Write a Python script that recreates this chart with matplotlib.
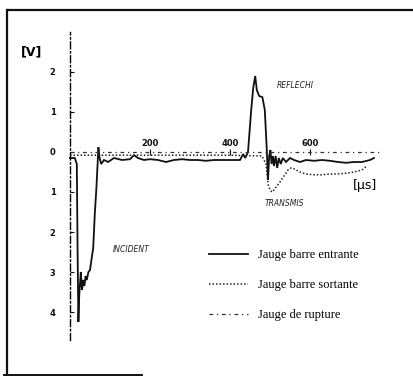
import matplotlib
matplotlib.use('Agg')
import matplotlib.pyplot as plt
from matplotlib.lines import Line2D
from matplotlib.ticker import FuncFormatter

# ---------------- data (time in µs, signal in V) ----------------
t_entrante = [0, 12, 17, 19, 21, 23, 25, 27, 30, 33, 36, 39, 42, 46, 50, 55, 58, 62, 66, 69, 71,
              74, 78, 85, 95, 110, 130, 150, 160, 170, 185, 200, 220, 240, 260, 280, 300, 320,
              340, 360, 380, 400, 415, 425, 433, 438, 445, 453, 458, 463, 467, 473, 481, 487,
              492, 495, 498, 501, 504, 507, 510, 514, 518, 522, 527, 532, 540, 550, 560, 575,
              590, 610, 630, 650, 670, 690, 710, 730, 750, 760]
v_entrante = [-0.15, -0.15, -0.3, -2.5, -4.25, -3.6, -3.3, -3.0, -3.45, -3.2, -3.35, -3.1, -3.2,
              -3.0, -2.95, -2.6, -2.4, -1.55, -0.9, -0.3, 0.12, -0.15, -0.3, -0.2, -0.25, -0.15,
              -0.2, -0.18, -0.08, -0.15, -0.2, -0.18, -0.2, -0.25, -0.2, -0.18, -0.2, -0.2,
              -0.22, -0.2, -0.2, -0.2, -0.2, -0.2, -0.05, -0.15, 0.0, 1.05, 1.6, 1.9, 1.55,
              1.4, 1.37, 1.05, 0.05, -0.7, -0.1, 0.05, -0.3, -0.1, -0.35, -0.1, -0.4, -0.15,
              -0.3, -0.15, -0.25, -0.15, -0.2, -0.25, -0.2, -0.22, -0.2, -0.22, -0.25, -0.27,
              -0.25, -0.25, -0.2, -0.15]

t_sortante = [0, 100, 200, 300, 400, 480, 490, 495, 500, 505, 510, 517, 525, 535, 545, 552,
              560, 575, 590, 610, 630, 650, 670, 690, 710, 730, 742]
v_sortante = [-0.08, -0.08, -0.08, -0.08, -0.08, -0.1, -0.3, -0.8, -0.95, -1.0, -0.95, -0.85,
              -0.75, -0.6, -0.45, -0.4, -0.42, -0.5, -0.55, -0.57, -0.57, -0.55, -0.55, -0.53,
              -0.5, -0.45, -0.35]

t_rupture = [0, 200, 400, 600, 780]
v_rupture = [0.0, 0.0, 0.0, 0.0, 0.0]

x_ticks = [200, 400, 600]
y_ticks = [-4, -3, -2, -1, 0, 1, 2]

labels = ["Jauge barre entrante", "Jauge barre sortante", "Jauge de rupture"]
annotations = ["INCIDENT", "REFLECHI", "TRANSMIS"]

# ---------------- figure ----------------
W, H = 413, 376
fig = plt.figure(figsize=(W / 100, H / 100), dpi=100)
fig.patch.set_facecolor('white')
ax = fig.add_axes([0, 0, 1, 1])
ax.set_facecolor('none')

# pixel mapping: t=0 at x=70px, 0.4 px per µs ; v=0 at y=152px, 40 px per V
ax.set_xlim(-70 / 0.4, (W - 70) / 0.4)
ax.set_ylim((152 - H) / 40, 152 / 40)

l1, = ax.plot(t_entrante, v_entrante, color='#111111', lw=1.3, solid_joinstyle='miter')
l2, = ax.plot(t_sortante, v_sortante, color='#222222', lw=1.1, linestyle=(0, (1, 1.3)))
l3, = ax.plot(t_rupture, v_rupture, color='#333333', lw=0.9, linestyle=(0, (3, 3, 1, 3)))

# axes spines
for s in ['right', 'bottom']:
    ax.spines[s].set_visible(False)
ax.spines['left'].set_position(('data', 0))
ax.spines['left'].set_bounds(-4.7, 3.0)
ax.spines['left'].set_linestyle((0, (5, 2, 1, 2)))
ax.spines['left'].set_linewidth(1.0)
ax.spines['top'].set_position(('data', 0))
ax.spines['top'].set_color('none')

ax.xaxis.tick_top()
ax.set_xticks(x_ticks)
ax.set_xticklabels([str(v) for v in x_ticks])
ax.tick_params(axis='x', direction='inout', length=4, width=0.8, pad=1,
               labelsize=6, colors='#111111')

ax.yaxis.set_ticks_position('left')
ax.set_yticks(y_ticks)
ax.yaxis.set_major_formatter(FuncFormatter(lambda v, p: f"{abs(int(round(v)))}"))
ax.tick_params(axis='y', direction='in', length=3, width=0.8, pad=10.5,
               labelsize=6, colors='#111111')
for lab in ax.get_yticklabels() + ax.get_xticklabels():
    lab.set_fontweight('bold')

ax.set_ylabel('[V]', rotation=0, fontsize=9, ha='center', va='center', fontweight='bold')
ax.yaxis.set_label_coords(32 / W, 1 - 52 / H)
ax.set_xlabel('[µs]', fontsize=9, ha='center', va='center')
ax.xaxis.set_label_coords(365 / W, 1 - 185 / H)

# annotations
ann_pos = [(131, 250), (295, 85), (284, 203)]
for txt, (px, py) in zip(annotations, ann_pos):
    ax.text(px / W, 1 - py / H, txt, transform=ax.transAxes, fontsize=5.5,
            style='italic', ha='center', va='center', color='#222222')

# legend
ax.legend([l1, l2, l3], labels, loc='upper left', bbox_to_anchor=(209 / W, 1 - 249 / H),
          frameon=False, borderpad=0, borderaxespad=0, handlelength=3.1,
          handletextpad=0.8, labelspacing=1.45,
          prop={'family': 'Liberation Serif', 'size': 9})

# scanned frame border
fig.add_artist(Line2D([8 / W, 1], [1 - 9.5 / H] * 2, transform=fig.transFigure,
                      color='#111111', lw=1.6))
fig.add_artist(Line2D([7 / W] * 2, [1 - 9.5 / H, 1 - 374 / H], transform=fig.transFigure,
                      color='#111111', lw=1.6))
fig.add_artist(Line2D([4 / W, 142 / W], [1 - 374.5 / H] * 2, transform=fig.transFigure,
                      color='#111111', lw=1.4))

fig.savefig('out.png', dpi=100, facecolor='white')
